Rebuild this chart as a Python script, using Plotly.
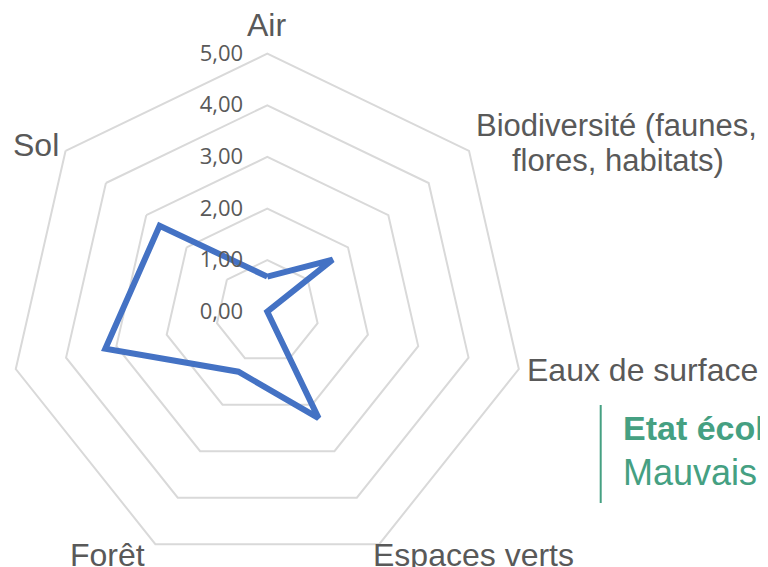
import math
import plotly.graph_objects as go

categories = ["Air", "Biodiversité (faunes, flores, habitats)", "Eaux de surface",
              "Espaces verts", "Forêt", "Paysage", "Sol"]
category_lines = [["Air"], ["Biodiversité (faunes,", "flores, habitats)"], ["Eaux de surface"],
                  ["Espaces verts"], ["Forêt"], ["Paysage"], ["Sol"]]
values = [0.68, 1.62, 0.0, 2.29, 1.29, 3.22, 2.67]
radial_ticks = [0, 1, 2, 3, 4, 5]
radial_ticktext = ["0,00", "1,00", "2,00", "3,00", "4,00", "5,00"]
legend_title = "Etat écologique"
legend_value = "Mauvais"

# label offsets from each outer vertex (px): per line (xanchor, dx, dy, font size)
label_offsets = [
    [("center", -1, -28.7, 32)],
    [("left", 4.8, -25.3, 31), ("left", 41, 9.7, 31)],
    [("left", 6.0, 0.4, 32)],
    [("left", -8.7, 10.8, 32)],
    [("right", -8.1, 10.8, 32)],
    [("right", -7.5, 1.0, 32)],
    [("right", -4.9, -6.3, 32)],
]

W, H = 768, 567
OFF = 8  # page body margin offset
cx, cy, R = 267.3 - OFF, 311.7 - OFF, 258
RMAX = 5

fig = go.Figure()
fig.add_trace(go.Scatterpolar(
    r=values + values[:1],
    theta=categories + categories[:1],
    mode="lines",
    line=dict(color="#4472C4", width=6),
    showlegend=False,
    hoverinfo="skip",
))

GREY = "#595959"
annotations = []
n = len(categories)
for i, (lines, offs) in enumerate(zip(category_lines, label_offsets)):
    th = math.radians(90 - i * 360 / n)
    vx = cx + R * math.cos(th)
    vy = cy - R * math.sin(th)
    for txt, (xa, dx, dy, fs) in zip(lines, offs):
        annotations.append(dict(
            xref="paper", yref="paper", x=(vx + dx) / W, y=1 - (vy + dy) / H,
            xanchor=xa, yanchor="middle", text=txt, showarrow=False,
            font=dict(family="Liberation Sans, Arial", size=fs, color=GREY)))

GREEN = "#45A082"
annotations += [
    dict(xref="paper", yref="paper", x=(621 - OFF) / W, y=1 - (428 - OFF) / H,
         xanchor="left", yanchor="middle",
         text="<b>" + legend_title + "</b>", showarrow=False,
         font=dict(family="Liberation Sans, Arial", size=34, color=GREEN)),
    dict(xref="paper", yref="paper", x=(621 - OFF) / W, y=1 - (472 - OFF) / H,
         xanchor="left", yanchor="middle",
         text=legend_value, showarrow=False,
         font=dict(family="Liberation Sans, Arial", size=36, color=GREEN)),
]

fig.update_layout(
    width=W, height=H,
    margin=dict(l=0, r=0, t=0, b=0),
    paper_bgcolor="white",
    plot_bgcolor="white",
    showlegend=False,
    polar=dict(
        domain=dict(x=[(cx - R) / W, (cx + R) / W], y=[1 - (cy + R) / H, 1 - (cy - R) / H]),
        bgcolor="white",
        gridshape="linear",
        radialaxis=dict(
            range=[0, RMAX],
            tickvals=radial_ticks,
            ticktext=radial_ticktext,
            angle=90,
            side="counterclockwise",
            showline=False,
            ticks="outside",
            ticklen=16,
            tickcolor="rgba(0,0,0,0)",
            tickangle=90,
            tickfont=dict(family="Open Sans", size=22, color=GREY),
            gridcolor="#d9d9d9",
            gridwidth=2,
        ),
        angularaxis=dict(
            categoryarray=categories,
            categoryorder="array",
            rotation=90,
            direction="clockwise",
            showgrid=False,
            showline=True,
            linecolor="#d9d9d9",
            linewidth=2,
            ticks="",
            showticklabels=False,
        ),
    ),
    shapes=[dict(type="line", xref="paper", yref="paper",
                 x0=(600.7 - OFF) / W, x1=(600.7 - OFF) / W,
                 y0=1 - (405 - OFF) / H, y1=1 - (503 - OFF) / H,
                 line=dict(color=GREEN, width=2))],
    annotations=annotations,
)

fig.write_html("out.html")
